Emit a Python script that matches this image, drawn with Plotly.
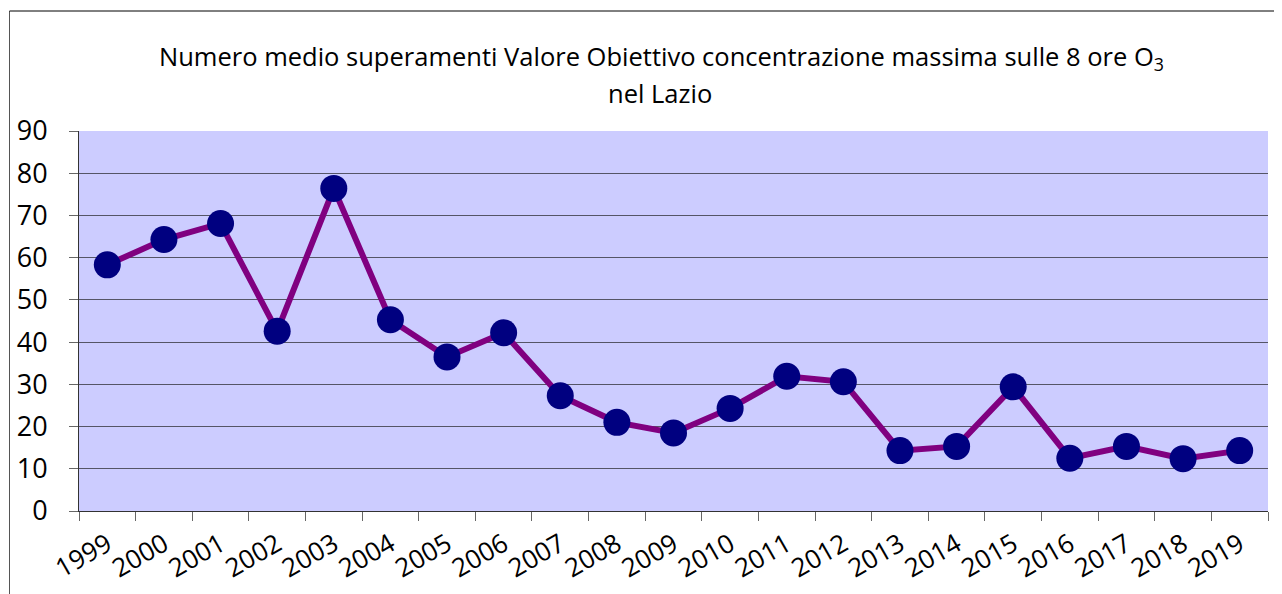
import plotly.graph_objects as go

years = ["1999", "2000", "2001", "2002", "2003", "2004", "2005", "2006", "2007", "2008",
         "2009", "2010", "2011", "2012", "2013", "2014", "2015", "2016", "2017", "2018", "2019"]
values = [58.3, 64.3, 68.1, 42.6, 76.4, 45.3, 36.5, 42.2, 27.3, 21.0,
          18.5, 24.3, 31.9, 30.6, 14.3, 15.3, 29.4, 12.5, 15.3, 12.4, 14.3]
y_ticks = [0, 10, 20, 30, 40, 50, 60, 70, 80, 90]
title_line1 = "Numero medio superamenti Valore Obiettivo concentrazione massima sulle 8 ore O<sub>3</sub>"
title_line2 = "nel Lazio"

FONT = "'Open Sans', Lato, sans-serif"

fig = go.Figure()
fig.add_trace(go.Scatter(
    x=years, y=values, mode="lines+markers",
    line=dict(color="#800080", width=6),
    marker=dict(color="#000080", size=27, line=dict(width=0)),
    showlegend=False, hoverinfo="x+y",
))

# page body has an 8px offset; target pixel coordinates are in window space
OFF = 8
W, H = 1282 - OFF, 594 - OFF
PL, PR, PT, PB = 79, 1268, 131, 511  # plot area in window pixels
L, T = PL - OFF, PT - OFF
R = W - (PR - OFF)
B = H - (PB - OFF)
pw, ph = W - L - R, H - T - B

def px_x(p):
    return (p - PL) / pw

def px_y(p):
    return (PB - p) / ph

fig.update_layout(
    width=W, height=H,
    margin=dict(l=L, r=R, t=T, b=B, pad=0, autoexpand=False),
    paper_bgcolor="white",
    plot_bgcolor="#CCCCFF",
    font=dict(family=FONT, color="black"),
    xaxis=dict(
        type="category", tickson="boundaries", ticks="outside", ticklen=9,
        tickcolor="#666666", tickwidth=1, automargin=False,
        showgrid=False, showline=True, linecolor="#333333", linewidth=1,
        tickangle=-30, tickfont=dict(size=26, family=FONT, color="black"),
        ticklabelstandoff=7,
        range=[-0.5, len(years) - 0.5], fixedrange=True,
    ),
    yaxis=dict(
        range=[0, 90], tickvals=y_ticks, ticks="outside", ticklen=9,
        tickcolor="#666666", tickwidth=1, automargin=False,
        showgrid=True, gridcolor="#555566", gridwidth=1,
        showline=True, linecolor="#333333", linewidth=1,
        tickfont=dict(size=27, family=FONT, color="black"),
        ticklabelstandoff=16, zeroline=False, fixedrange=True,
    ),
    annotations=[
        dict(text=title_line1, x=px_x(661), y=px_y(57), xref="paper", yref="paper",
             xanchor="center", yanchor="middle", showarrow=False,
             font=dict(size=25.5, family=FONT, color="black")),
        dict(text=title_line2, x=px_x(660), y=px_y(93), xref="paper", yref="paper",
             xanchor="center", yanchor="middle", showarrow=False,
             font=dict(size=25.5, family=FONT, color="black")),
    ],
    shapes=[
        dict(type="line", xref="paper", yref="paper",
             x0=px_x(9.5), x1=px_x(9.5), y0=px_y(11), y1=px_y(600),
             line=dict(color="#555555", width=1)),
        dict(type="line", xref="paper", yref="paper",
             x0=px_x(9.5), x1=px_x(1290), y0=px_y(11), y1=px_y(11),
             line=dict(color="black", width=1)),
    ],
)

fig.write_html("out.html")
